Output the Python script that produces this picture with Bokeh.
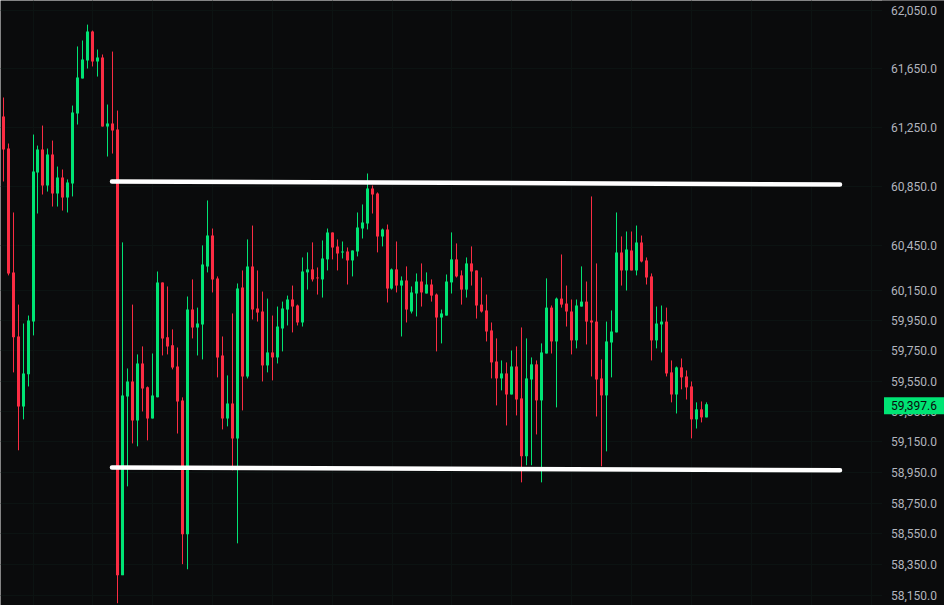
# candlestick range chart
import numpy as np
from bokeh.embed import file_html
from bokeh.models import ColumnDataSource, FixedTicker, Label, NumeralTickFormatter, Range1d
from bokeh.plotting import figure
from bokeh.resources import INLINE

opens = [
    61324, 61107, 60273, 59846, 59383, 59595, 59945, 60945, 61100, 60857,
    61066, 60803, 60911, 60776, 60871, 61345, 61584, 61707, 61906, 61700,
    61727, 61256, 61277, 61236, 58282, 59449, 59548, 59291, 59667, 59509,
    59304, 59443, 60206, 59840, 59787, 59647, 59423, 58547, 60025, 59906,
    59926, 60313, 60520, 60233, 59720, 59304, 59403, 59173, 60172, 59581,
    60313, 60032, 60012, 59654, 59740, 59707, 59899, 60025, 60092, 60052,
    59939, 60273, 60293, 60239, 60226, 60360, 60541, 60447, 60407, 60413,
    60353, 60413, 60567, 60601, 60837, 60803, 60514, 60561, 60165, 60293,
    60185, 60219, 60012, 60132, 60212, 60132, 60192, 60125, 59972, 59985,
    60206, 60360, 60253, 60158, 60333, 60286, 60058, 60019, 59886, 59680,
    59568, 59601, 59462, 59647, 59436, 59056, 59561, 59661, 59423, 59733,
    60038, 59813, 60098, 60065, 60012, 59820, 60045, 60078, 59952, 59945,
    59568, 59456, 59806, 59873, 60407, 60286, 60420, 60286, 60474, 60353,
    60246, 59820, 59926, 59945, 59608, 59462, 59641, 59581, 59515, 59298,
    59364, 59311,
]
closes = [
    61100, 60266, 59840, 59383, 59601, 59952, 60951, 61100, 60857, 61066,
    60803, 60911, 60776, 60877, 61351, 61590, 61714, 61906, 61700, 61727,
    61256, 61277, 61229, 58282, 59456, 59548, 59291, 59667, 59502, 59304,
    59456, 60206, 59833, 59780, 59641, 59416, 58547, 60025, 59906, 59932,
    60326, 60520, 60226, 59707, 59304, 59403, 59173, 60165, 59581, 60313,
    60025, 60005, 59654, 59740, 59707, 59912, 60032, 60092, 60045, 59939,
    60279, 60293, 60226, 60233, 60366, 60541, 60440, 60400, 60413, 60353,
    60420, 60574, 60608, 60837, 60796, 60514, 60561, 60165, 60293, 60185,
    60219, 60025, 60139, 60212, 60139, 60192, 60118, 59972, 59999, 60212,
    60360, 60246, 60158, 60333, 60279, 60052, 60012, 59879, 59674, 59568,
    59601, 59462, 59647, 59429, 59056, 59568, 59661, 59423, 59740, 60038,
    59813, 60098, 60058, 60012, 59820, 60052, 60078, 59945, 59939, 59561,
    59456, 59813, 59879, 60407, 60286, 60427, 60286, 60474, 60346, 60239,
    59820, 59932, 59945, 59601, 59462, 59641, 59575, 59509, 59298, 59364,
    59311, 59397.6,
]
highs = [
    61454, 61141, 60675, 60058, 59932, 59985, 61202, 61127, 61263, 61107,
    61161, 60985, 60965, 60898, 61399, 61803, 61844, 61953, 61912, 61782,
    61748, 61406, 61768, 61365, 60474, 59634, 60058, 59727, 59780, 59515,
    59733, 60279, 60206, 60179, 59893, 59773, 59443, 60112, 60226, 60038,
    60454, 60756, 60567, 60246, 59846, 59588, 59999, 60199, 60286, 60494,
    60587, 60286, 60145, 60098, 59985, 60045, 60078, 60118, 60185, 60058,
    60373, 60407, 60474, 60306, 60487, 60567, 60541, 60494, 60480, 60440,
    60420, 60675, 60729, 60938, 60857, 60810, 60567, 60594, 60299, 60480,
    60246, 60313, 60179, 60266, 60333, 60273, 60226, 60132, 60025, 60259,
    60541, 60467, 60286, 60373, 60447, 60286, 60239, 60125, 59939, 59833,
    59687, 59674, 59753, 59780, 59906, 59833, 59707, 59687, 59800, 60233,
    60052, 60105, 60393, 60185, 60092, 60092, 60313, 60212, 60783, 60333,
    59694, 59945, 60019, 60675, 60514, 60547, 60547, 60587, 60520, 60373,
    60266, 60045, 60052, 60038, 59687, 59647, 59700, 59621, 59548, 59410,
    59416, 59410,
]
lows = [
    60884, 60253, 59608, 59095, 59298, 59515, 59853, 60668, 60796, 60816,
    60715, 60715, 60688, 60675, 60783, 61270, 61584, 61652, 61666, 61597,
    61256, 61053, 61073, 58101, 58282, 58859, 59140, 59121, 59350, 59160,
    59304, 59443, 59720, 59727, 59628, 59205, 58353, 58320, 59833, 59720,
    59694, 60273, 60139, 59575, 59232, 59252, 58964, 58488, 59357, 59568,
    59959, 59945, 59548, 59608, 59555, 59667, 59747, 59919, 59873, 59919,
    59912, 60158, 60212, 60125, 60105, 60286, 60360, 60286, 60366, 60192,
    60246, 60380, 60500, 60561, 60668, 60407, 60447, 60072, 60158, 60139,
    59846, 59939, 59999, 59979, 60045, 60132, 60078, 59747, 59800, 59985,
    60132, 60239, 60058, 60105, 60185, 59965, 60005, 59813, 59568, 59390,
    59489, 59258, 59462, 59324, 58885, 58997, 58997, 59199, 58885, 59733,
    59733, 59377, 60038, 59912, 59727, 59767, 60045, 59793, 59581, 59317,
    58990, 59088, 59575, 59873, 60185, 60152, 60286, 60253, 60340, 60192,
    59687, 59767, 59740, 59581, 59410, 59337, 59496, 59429, 59173, 59238,
    59278, 59311,
]

price_ticks = [62050, 61650, 61250, 60850, 60450, 60150, 59950, 59750, 59550,
               59350, 59150, 58950, 58750, 58550, 58350, 58150]
time_grid = [6, 17.8, 29.8, 41.8, 53.8, 65.8, 77.8, 89.6, 101.6, 113.6, 125.6,
             137.6, 149.6, 161.6, 173.6]

# hand drawn support / resistance lines
level_x = [21.7, 167.3]
resistance = [60884, 60864]
support = [58983, 58964]
last_price = 59397.6

BG = "#0a0b0c"
GRID = "#0c1312"
UP = "#00e474"
DOWN = "#fb2c43"
SCALE_X = 175.7  # where the price scale starts

p = figure(width=944, height=605, y_axis_type="log", y_axis_location="right",
           x_range=Range1d(-0.6, 188.2), y_range=Range1d(58086, 62119),
           output_backend="svg", toolbar_location=None,
           background_fill_color=BG, border_fill_color=BG, min_border=0)
p.outline_line_color = None
p.xaxis.visible = False

p.xgrid.ticker = FixedTicker(ticks=time_grid)
p.ygrid.ticker = FixedTicker(ticks=price_ticks)
p.xgrid.grid_line_color = GRID
p.ygrid.grid_line_color = GRID

ax = p.yaxis[0]
ax.fixed_location = SCALE_X
ax.ticker = FixedTicker(ticks=price_ticks)
ax.formatter = NumeralTickFormatter(format="0,0.0")
ax.axis_line_color = None
ax.major_tick_line_color = None
ax.minor_tick_line_color = None
ax.major_tick_out = 0
ax.major_label_standoff = 9
ax.major_label_text_color = "#b2b5be"
ax.major_label_text_font = "Roboto"
ax.major_label_text_font_size = "12px"

# plain strip under the scale, hides the grid there
p.quad(left=SCALE_X, right=188.2, bottom=58086, top=62119, fill_color=BG, line_color=None)

o = np.array(opens)
c = np.array(closes)
# the chart's bars drift one pixel at two points
bar_x = [i if i < 7 else i - 0.2 if i < 78 else i - 0.4 for i in range(len(o))]
source = ColumnDataSource(dict(
    x=bar_x,
    high=highs, low=lows,
    top=np.maximum(o, c), bottom=np.minimum(o, c),
    color=[UP if b >= a else DOWN for a, b in zip(opens, closes)],
))
p.segment("x", "high", "x", "low", source=source, color="color", line_width=1)
p.vbar("x", width=0.6, top="top", bottom="bottom", source=source,
       fill_color="color", line_color=None)

for level in (resistance, support):
    p.line(level_x, level, color="white", line_width=4.5, line_cap="round")

tag = Label(x=176.1, y=last_price, y_offset=-1.5, text=f"{last_price:,.1f}", text_color="#0a0b0c",
            text_font="Roboto", text_font_size="12px", text_baseline="middle",
            background_fill_color=UP, padding=(7, 4))
p.add_layout(tag)

open("out.html", "w").write(file_html(p, INLINE))
